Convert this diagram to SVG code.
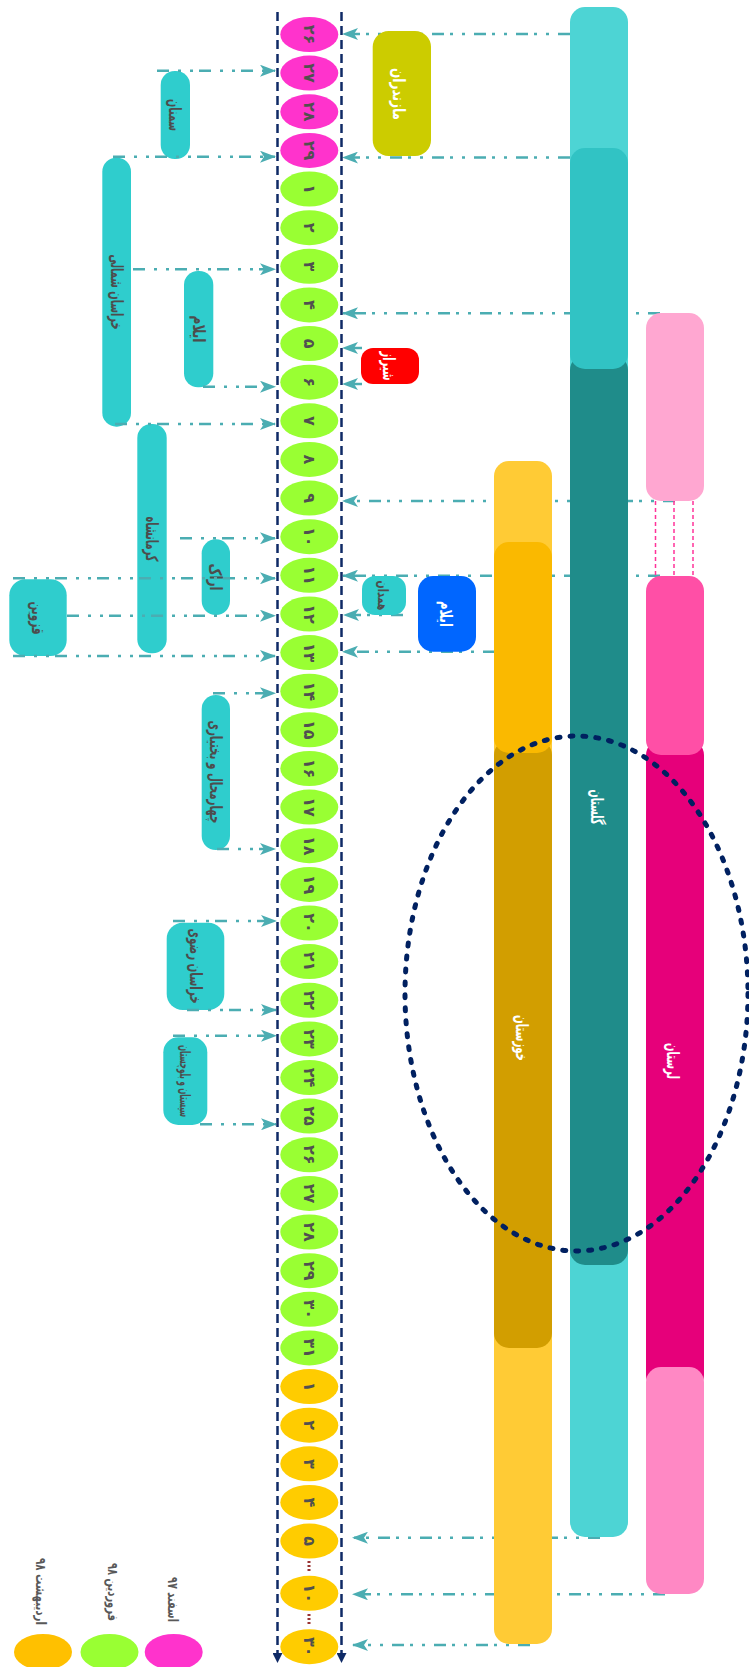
<svg xmlns="http://www.w3.org/2000/svg" width="749" height="1667" viewBox="0 0 749 1667">
<style>
.bg{fill:#ffffff}
.esf{fill:#FF33CC}
.far{fill:#99FF33}
.ord{fill:#FFCC00}
.num{font-family:'DejaVu Sans',sans-serif;font-weight:bold;font-size:16px;fill:#505050;text-anchor:middle;dominant-baseline:central}
.lbl{font-family:'DejaVu Sans',sans-serif;font-weight:bold;font-size:17px;fill:#4D4D4D;text-anchor:middle;dominant-baseline:central}
.wl{fill:#ffffff}
.leg{font-family:'DejaVu Sans',sans-serif;font-weight:bold;font-size:14px;fill:#595959;text-anchor:middle;dominant-baseline:central}
.cy{fill:#2FCDCD}
.conn{stroke:#4BADB2;stroke-width:2.5;fill:none;stroke-dasharray:12 9 3 9 3 6}
.connR{marker-end:url(#ah)}
.tl{stroke:#0F2A66;stroke-width:2.5;stroke-dasharray:9 5;fill:none;marker-end:url(#nav)}
.pd{stroke:#FF3399;stroke-width:1.5;stroke-dasharray:4 3;fill:none}
.dots{stroke:#993333;stroke-width:3;stroke-dasharray:2 2;fill:none}
</style>
<defs>
<marker id="ah" viewBox="0 0 16 12" refX="15" refY="6" markerWidth="16" markerHeight="12" markerUnits="userSpaceOnUse" orient="auto">
<path d="M0,0 L16,6 L0,12 L4,6 z" fill="#4BADB2"/>
</marker>
<marker id="nav" viewBox="0 0 10 10" refX="9" refY="5" markerWidth="10" markerHeight="10" markerUnits="userSpaceOnUse" orient="auto">
<path d="M0,0 L10,5 L0,10 z" fill="#0F2A66"/>
</marker>
</defs>
<rect class="bg" x="0" y="0" width="749" height="1667"/>

<!-- left labels -->
<g id="semnan"><rect class="cy" x="160.7" y="71" width="29.3" height="88" rx="14"/><text class="lbl" transform="translate(175.3 115) rotate(90)" textLength="32" lengthAdjust="spacingAndGlyphs">سمنان</text></g>
<g id="khorasan-shomali"><rect class="cy" x="102.3" y="157.7" width="28.7" height="269" rx="14"/><text class="lbl" transform="translate(116.7 292) rotate(90)" textLength="75" lengthAdjust="spacingAndGlyphs">خراسان شمالی</text></g>
<g id="ilam-left"><rect class="cy" x="184" y="271" width="29.3" height="116.3" rx="14"/><text class="lbl" transform="translate(198.7 329) rotate(90)" textLength="27" lengthAdjust="spacingAndGlyphs">ایلام</text></g>
<g id="kermanshah"><rect class="cy" x="137.3" y="424" width="29.4" height="229.3" rx="14"/><text class="lbl" transform="translate(152 539) rotate(90)" textLength="45" lengthAdjust="spacingAndGlyphs">کرمانشاه</text></g>
<g id="arak"><rect class="cy" x="201.7" y="539.3" width="28.3" height="75.7" rx="14"/><text class="lbl" transform="translate(216 577) rotate(90)" textLength="27" lengthAdjust="spacingAndGlyphs">اراک</text></g>
<g id="qazvin"><rect class="cy" x="9.3" y="579.3" width="57.4" height="76.7" rx="16"/><text class="lbl" transform="translate(38 618) rotate(90)" textLength="33" lengthAdjust="spacingAndGlyphs">قزوین</text></g>
<g id="chaharmahal"><rect class="cy" x="201.7" y="695" width="28.3" height="155" rx="14"/><text class="lbl" transform="translate(216 772) rotate(90)" textLength="103" lengthAdjust="spacingAndGlyphs">چهارمحال و بختیاری</text></g>
<g id="khorasan-razavi"><rect class="cy" x="166.7" y="922.7" width="57.6" height="87.3" rx="16"/><text class="lbl" transform="translate(195.5 966) rotate(90)" textLength="75" lengthAdjust="spacingAndGlyphs">خراسان رضوی</text></g>
<g id="sistan"><rect class="cy" x="163.3" y="1037.3" width="44" height="87.7" rx="15"/><text class="lbl" style="font-size:14px" transform="translate(185.3 1081) rotate(90)" textLength="72" lengthAdjust="spacingAndGlyphs">سیستان و بلوچستان</text></g>

<!-- connectors -->
<g id="connectors">
<line class="conn connR" x1="157" y1="70.7" x2="275" y2="70.7"/>
<line class="conn connR" x1="113" y1="156.7" x2="275" y2="156.7"/>
<line class="conn connR" x1="133" y1="269.3" x2="275" y2="269.3"/>
<line class="conn connR" x1="203" y1="386.7" x2="275" y2="386.7"/>
<line class="conn connR" x1="115" y1="424" x2="275" y2="424"/>
<line class="conn connR" x1="180" y1="538.3" x2="275" y2="538.3"/>
<line class="conn connR" x1="13" y1="578.3" x2="275" y2="578.3"/>
<line class="conn connR" x1="67" y1="615.7" x2="275" y2="615.7"/>
<line class="conn connR" x1="13" y1="656" x2="275" y2="656"/>
<line class="conn connR" x1="213" y1="693.3" x2="275" y2="693.3"/>
<line class="conn connR" x1="217" y1="849" x2="275" y2="849"/>
<line class="conn connR" x1="173" y1="921" x2="276" y2="921"/>
<line class="conn connR" x1="187" y1="1010" x2="276" y2="1010"/>
<line class="conn connR" x1="173" y1="1035.7" x2="276" y2="1035.7"/>
<line class="conn connR" x1="200" y1="1124.3" x2="276" y2="1124.3"/>
<line class="conn connR" x1="570" y1="34" x2="343" y2="34"/>
<line class="conn connR" x1="570" y1="157.6" x2="343" y2="157.6"/>
<line class="conn connR" x1="660" y1="313.3" x2="343" y2="313.3"/>
<line class="conn connR" x1="362" y1="348" x2="343" y2="348"/>
<line class="conn connR" x1="362" y1="384" x2="343" y2="384"/>
<line class="conn connR" x1="675" y1="501" x2="343" y2="501"/>
<line class="conn connR" x1="660" y1="575.7" x2="343" y2="575.7"/>
<line class="conn connR" x1="403" y1="615" x2="344" y2="615"/>
<line class="conn connR" x1="495" y1="651.7" x2="343" y2="651.7"/>
<line class="conn connR" x1="600" y1="1537.7" x2="353" y2="1537.7"/>
<line class="conn connR" x1="665" y1="1594.3" x2="353" y2="1594.3"/>
<line class="conn connR" x1="530" y1="1645" x2="353" y2="1645"/>
</g>

<!-- bars: golestan column -->
<g id="golestan">
<rect x="570" y="7" width="58" height="1530" rx="15" fill="#4DD4D4"/>
<rect x="570" y="355" width="58" height="910" rx="15" fill="#1F8C8A"/>
<rect x="570" y="148" width="58" height="221" rx="15" fill="#31C3C4"/>
<text class="lbl wl" transform="translate(597 807) rotate(90)" textLength="35" lengthAdjust="spacingAndGlyphs">گلستان</text>
</g>
<!-- lorestan column -->
<g id="lorestan">
<rect x="646" y="313" width="58" height="188" rx="15" fill="#FFA7D1"/>
<line class="pd" x1="655.5" y1="501" x2="655.5" y2="578"/>
<line class="pd" x1="674" y1="501" x2="674" y2="578"/>
<line class="pd" x1="693" y1="501" x2="693" y2="578"/>
<rect x="646" y="740" width="58" height="650" rx="15" fill="#E6007A"/>
<rect x="646" y="1367" width="58" height="227" rx="15" fill="#FF88C4"/>
<rect x="646" y="576" width="58" height="179" rx="15" fill="#FF4FA6"/>
<text class="lbl wl" transform="translate(673 1061) rotate(90)" textLength="36" lengthAdjust="spacingAndGlyphs">لرستان</text>
</g>
<!-- khuzestan column -->
<g id="khuzestan">
<rect x="494" y="461" width="58" height="1183" rx="15" fill="#FFCB35"/>
<rect x="494" y="740" width="58" height="608" rx="15" fill="#D29E00"/>
<rect x="494" y="542" width="58" height="211" rx="15" fill="#FAB900"/>
<text class="lbl wl" transform="translate(522 1038) rotate(90)" textLength="46" lengthAdjust="spacingAndGlyphs">خوزستان</text>
</g>

<!-- dashed ellipse -->
<ellipse id="focus" cx="576.5" cy="993.5" rx="171.5" ry="257.5" fill="none" stroke="#002060" stroke-width="5" stroke-dasharray="3 10" stroke-linecap="round"/>

<!-- right labels -->
<g id="mazandaran"><rect x="372.7" y="31" width="58.3" height="125" rx="16" fill="#CCCC00"/><text class="lbl wl" transform="translate(399 94) rotate(90)" textLength="52" lengthAdjust="spacingAndGlyphs">مازندران</text></g>
<g id="shiraz"><rect x="361" y="348" width="58" height="36" rx="12" fill="#FF0000"/><text class="lbl wl" transform="translate(389 366) rotate(90)" textLength="29" lengthAdjust="spacingAndGlyphs">شیراز</text></g>
<g id="hamedan"><rect class="cy" x="362" y="576" width="44" height="39" rx="13"/><text class="lbl" style="font-size:14px" transform="translate(383 595.5) rotate(90)" textLength="30" lengthAdjust="spacingAndGlyphs">همدان</text></g>
<g id="ilam-right"><rect x="418" y="576" width="58" height="75.7" rx="15" fill="#0066FF"/><text class="lbl wl" transform="translate(446 614) rotate(90)" textLength="26" lengthAdjust="spacingAndGlyphs">ایلام</text></g>

<!-- timeline -->
<g id="timeline">
<line class="tl" x1="277.5" y1="12" x2="277.5" y2="1662"/>
<line class="tl" x1="341.5" y1="12" x2="341.5" y2="1662"/>
<line class="dots" x1="309" y1="1561" x2="309" y2="1573"/>
<line class="dots" x1="309" y1="1614" x2="309" y2="1626"/>
</g>

<!-- days -->
<g id="days">
<g id="d-esf-26"><ellipse class="esf" cx="309.3" cy="34.5" rx="29" ry="17.5"/><text class="num" transform="translate(309.3 34.5) rotate(90)">۲۶</text></g>
<g id="d-esf-27"><ellipse class="esf" cx="309.3" cy="73.1" rx="29" ry="17.5"/><text class="num" transform="translate(309.3 73.1) rotate(90)">۲۷</text></g>
<g id="d-esf-28"><ellipse class="esf" cx="309.3" cy="111.8" rx="29" ry="17.5"/><text class="num" transform="translate(309.3 111.8) rotate(90)">۲۸</text></g>
<g id="d-esf-29"><ellipse class="esf" cx="309.3" cy="150.4" rx="29" ry="17.5"/><text class="num" transform="translate(309.3 150.4) rotate(90)">۲۹</text></g>
<g id="d-far-1"><ellipse class="far" cx="309.3" cy="189.0" rx="29" ry="17.5"/><text class="num" transform="translate(309.3 189.0) rotate(90)">۱</text></g>
<g id="d-far-2"><ellipse class="far" cx="309.3" cy="227.7" rx="29" ry="17.5"/><text class="num" transform="translate(309.3 227.7) rotate(90)">۲</text></g>
<g id="d-far-3"><ellipse class="far" cx="309.3" cy="266.3" rx="29" ry="17.5"/><text class="num" transform="translate(309.3 266.3) rotate(90)">۳</text></g>
<g id="d-far-4"><ellipse class="far" cx="309.3" cy="304.9" rx="29" ry="17.5"/><text class="num" transform="translate(309.3 304.9) rotate(90)">۴</text></g>
<g id="d-far-5"><ellipse class="far" cx="309.3" cy="343.5" rx="29" ry="17.5"/><text class="num" transform="translate(309.3 343.5) rotate(90)">۵</text></g>
<g id="d-far-6"><ellipse class="far" cx="309.3" cy="382.2" rx="29" ry="17.5"/><text class="num" transform="translate(309.3 382.2) rotate(90)">۶</text></g>
<g id="d-far-7"><ellipse class="far" cx="309.3" cy="420.8" rx="29" ry="17.5"/><text class="num" transform="translate(309.3 420.8) rotate(90)">۷</text></g>
<g id="d-far-8"><ellipse class="far" cx="309.3" cy="459.4" rx="29" ry="17.5"/><text class="num" transform="translate(309.3 459.4) rotate(90)">۸</text></g>
<g id="d-far-9"><ellipse class="far" cx="309.3" cy="498.1" rx="29" ry="17.5"/><text class="num" transform="translate(309.3 498.1) rotate(90)">۹</text></g>
<g id="d-far-10"><ellipse class="far" cx="309.3" cy="536.7" rx="29" ry="17.5"/><text class="num" transform="translate(309.3 536.7) rotate(90)">۱۰</text></g>
<g id="d-far-11"><ellipse class="far" cx="309.3" cy="575.3" rx="29" ry="17.5"/><text class="num" transform="translate(309.3 575.3) rotate(90)">۱۱</text></g>
<g id="d-far-12"><ellipse class="far" cx="309.3" cy="614.0" rx="29" ry="17.5"/><text class="num" transform="translate(309.3 614.0) rotate(90)">۱۲</text></g>
<g id="d-far-13"><ellipse class="far" cx="309.3" cy="652.6" rx="29" ry="17.5"/><text class="num" transform="translate(309.3 652.6) rotate(90)">۱۳</text></g>
<g id="d-far-14"><ellipse class="far" cx="309.3" cy="691.2" rx="29" ry="17.5"/><text class="num" transform="translate(309.3 691.2) rotate(90)">۱۴</text></g>
<g id="d-far-15"><ellipse class="far" cx="309.3" cy="729.8" rx="29" ry="17.5"/><text class="num" transform="translate(309.3 729.8) rotate(90)">۱۵</text></g>
<g id="d-far-16"><ellipse class="far" cx="309.3" cy="768.5" rx="29" ry="17.5"/><text class="num" transform="translate(309.3 768.5) rotate(90)">۱۶</text></g>
<g id="d-far-17"><ellipse class="far" cx="309.3" cy="807.1" rx="29" ry="17.5"/><text class="num" transform="translate(309.3 807.1) rotate(90)">۱۷</text></g>
<g id="d-far-18"><ellipse class="far" cx="309.3" cy="845.7" rx="29" ry="17.5"/><text class="num" transform="translate(309.3 845.7) rotate(90)">۱۸</text></g>
<g id="d-far-19"><ellipse class="far" cx="309.3" cy="884.4" rx="29" ry="17.5"/><text class="num" transform="translate(309.3 884.4) rotate(90)">۱۹</text></g>
<g id="d-far-20"><ellipse class="far" cx="309.3" cy="923.0" rx="29" ry="17.5"/><text class="num" transform="translate(309.3 923.0) rotate(90)">۲۰</text></g>
<g id="d-far-21"><ellipse class="far" cx="309.3" cy="961.6" rx="29" ry="17.5"/><text class="num" transform="translate(309.3 961.6) rotate(90)">۲۱</text></g>
<g id="d-far-22"><ellipse class="far" cx="309.3" cy="1000.3" rx="29" ry="17.5"/><text class="num" transform="translate(309.3 1000.3) rotate(90)">۲۲</text></g>
<g id="d-far-23"><ellipse class="far" cx="309.3" cy="1038.9" rx="29" ry="17.5"/><text class="num" transform="translate(309.3 1038.9) rotate(90)">۲۳</text></g>
<g id="d-far-24"><ellipse class="far" cx="309.3" cy="1077.5" rx="29" ry="17.5"/><text class="num" transform="translate(309.3 1077.5) rotate(90)">۲۴</text></g>
<g id="d-far-25"><ellipse class="far" cx="309.3" cy="1116.1" rx="29" ry="17.5"/><text class="num" transform="translate(309.3 1116.1) rotate(90)">۲۵</text></g>
<g id="d-far-26"><ellipse class="far" cx="309.3" cy="1154.8" rx="29" ry="17.5"/><text class="num" transform="translate(309.3 1154.8) rotate(90)">۲۶</text></g>
<g id="d-far-27"><ellipse class="far" cx="309.3" cy="1193.4" rx="29" ry="17.5"/><text class="num" transform="translate(309.3 1193.4) rotate(90)">۲۷</text></g>
<g id="d-far-28"><ellipse class="far" cx="309.3" cy="1232.0" rx="29" ry="17.5"/><text class="num" transform="translate(309.3 1232.0) rotate(90)">۲۸</text></g>
<g id="d-far-29"><ellipse class="far" cx="309.3" cy="1270.7" rx="29" ry="17.5"/><text class="num" transform="translate(309.3 1270.7) rotate(90)">۲۹</text></g>
<g id="d-far-30"><ellipse class="far" cx="309.3" cy="1309.3" rx="29" ry="17.5"/><text class="num" transform="translate(309.3 1309.3) rotate(90)">۳۰</text></g>
<g id="d-far-31"><ellipse class="far" cx="309.3" cy="1347.9" rx="29" ry="17.5"/><text class="num" transform="translate(309.3 1347.9) rotate(90)">۳۱</text></g>
<g id="d-ord-1"><ellipse class="ord" cx="309.3" cy="1386.6" rx="29" ry="17.5"/><text class="num" transform="translate(309.3 1386.6) rotate(90)">۱</text></g>
<g id="d-ord-2"><ellipse class="ord" cx="309.3" cy="1425.2" rx="29" ry="17.5"/><text class="num" transform="translate(309.3 1425.2) rotate(90)">۲</text></g>
<g id="d-ord-3"><ellipse class="ord" cx="309.3" cy="1463.8" rx="29" ry="17.5"/><text class="num" transform="translate(309.3 1463.8) rotate(90)">۳</text></g>
<g id="d-ord-4"><ellipse class="ord" cx="309.3" cy="1502.4" rx="29" ry="17.5"/><text class="num" transform="translate(309.3 1502.4) rotate(90)">۴</text></g>
<g id="d-ord-5"><ellipse class="ord" cx="309.3" cy="1541.1" rx="29" ry="17.5"/><text class="num" transform="translate(309.3 1541.1) rotate(90)">۵</text></g>
<g id="d-ord-10"><ellipse class="ord" cx="309.3" cy="1593.3" rx="29" ry="17.5"/><text class="num" transform="translate(309.3 1593.3) rotate(90)">۱۰</text></g>
<g id="d-ord-30"><ellipse class="ord" cx="309.3" cy="1646.7" rx="29" ry="17.5"/><text class="num" transform="translate(309.3 1646.7) rotate(90)">۳۰</text></g>
</g>

<!-- legend -->
<g id="legend">
<g id="leg-esfand"><ellipse class="esf" cx="173.7" cy="1652" rx="29" ry="18"/><text class="leg" transform="translate(173 1599.5) rotate(90)" textLength="45" lengthAdjust="spacingAndGlyphs">اسفند ۹۷</text></g>
<g id="leg-farvardin"><ellipse class="far" cx="109.5" cy="1652" rx="29" ry="18"/><text class="leg" transform="translate(113 1592) rotate(90)" textLength="58" lengthAdjust="spacingAndGlyphs">فروردین ۹۸</text></g>
<g id="leg-ordibehesht"><ellipse fill="#FFC000" cx="43" cy="1652" rx="29" ry="18"/><text class="leg" transform="translate(41 1591.5) rotate(90)" textLength="67" lengthAdjust="spacingAndGlyphs">اردیبهشت ۹۸</text></g>
</g>
</svg>
